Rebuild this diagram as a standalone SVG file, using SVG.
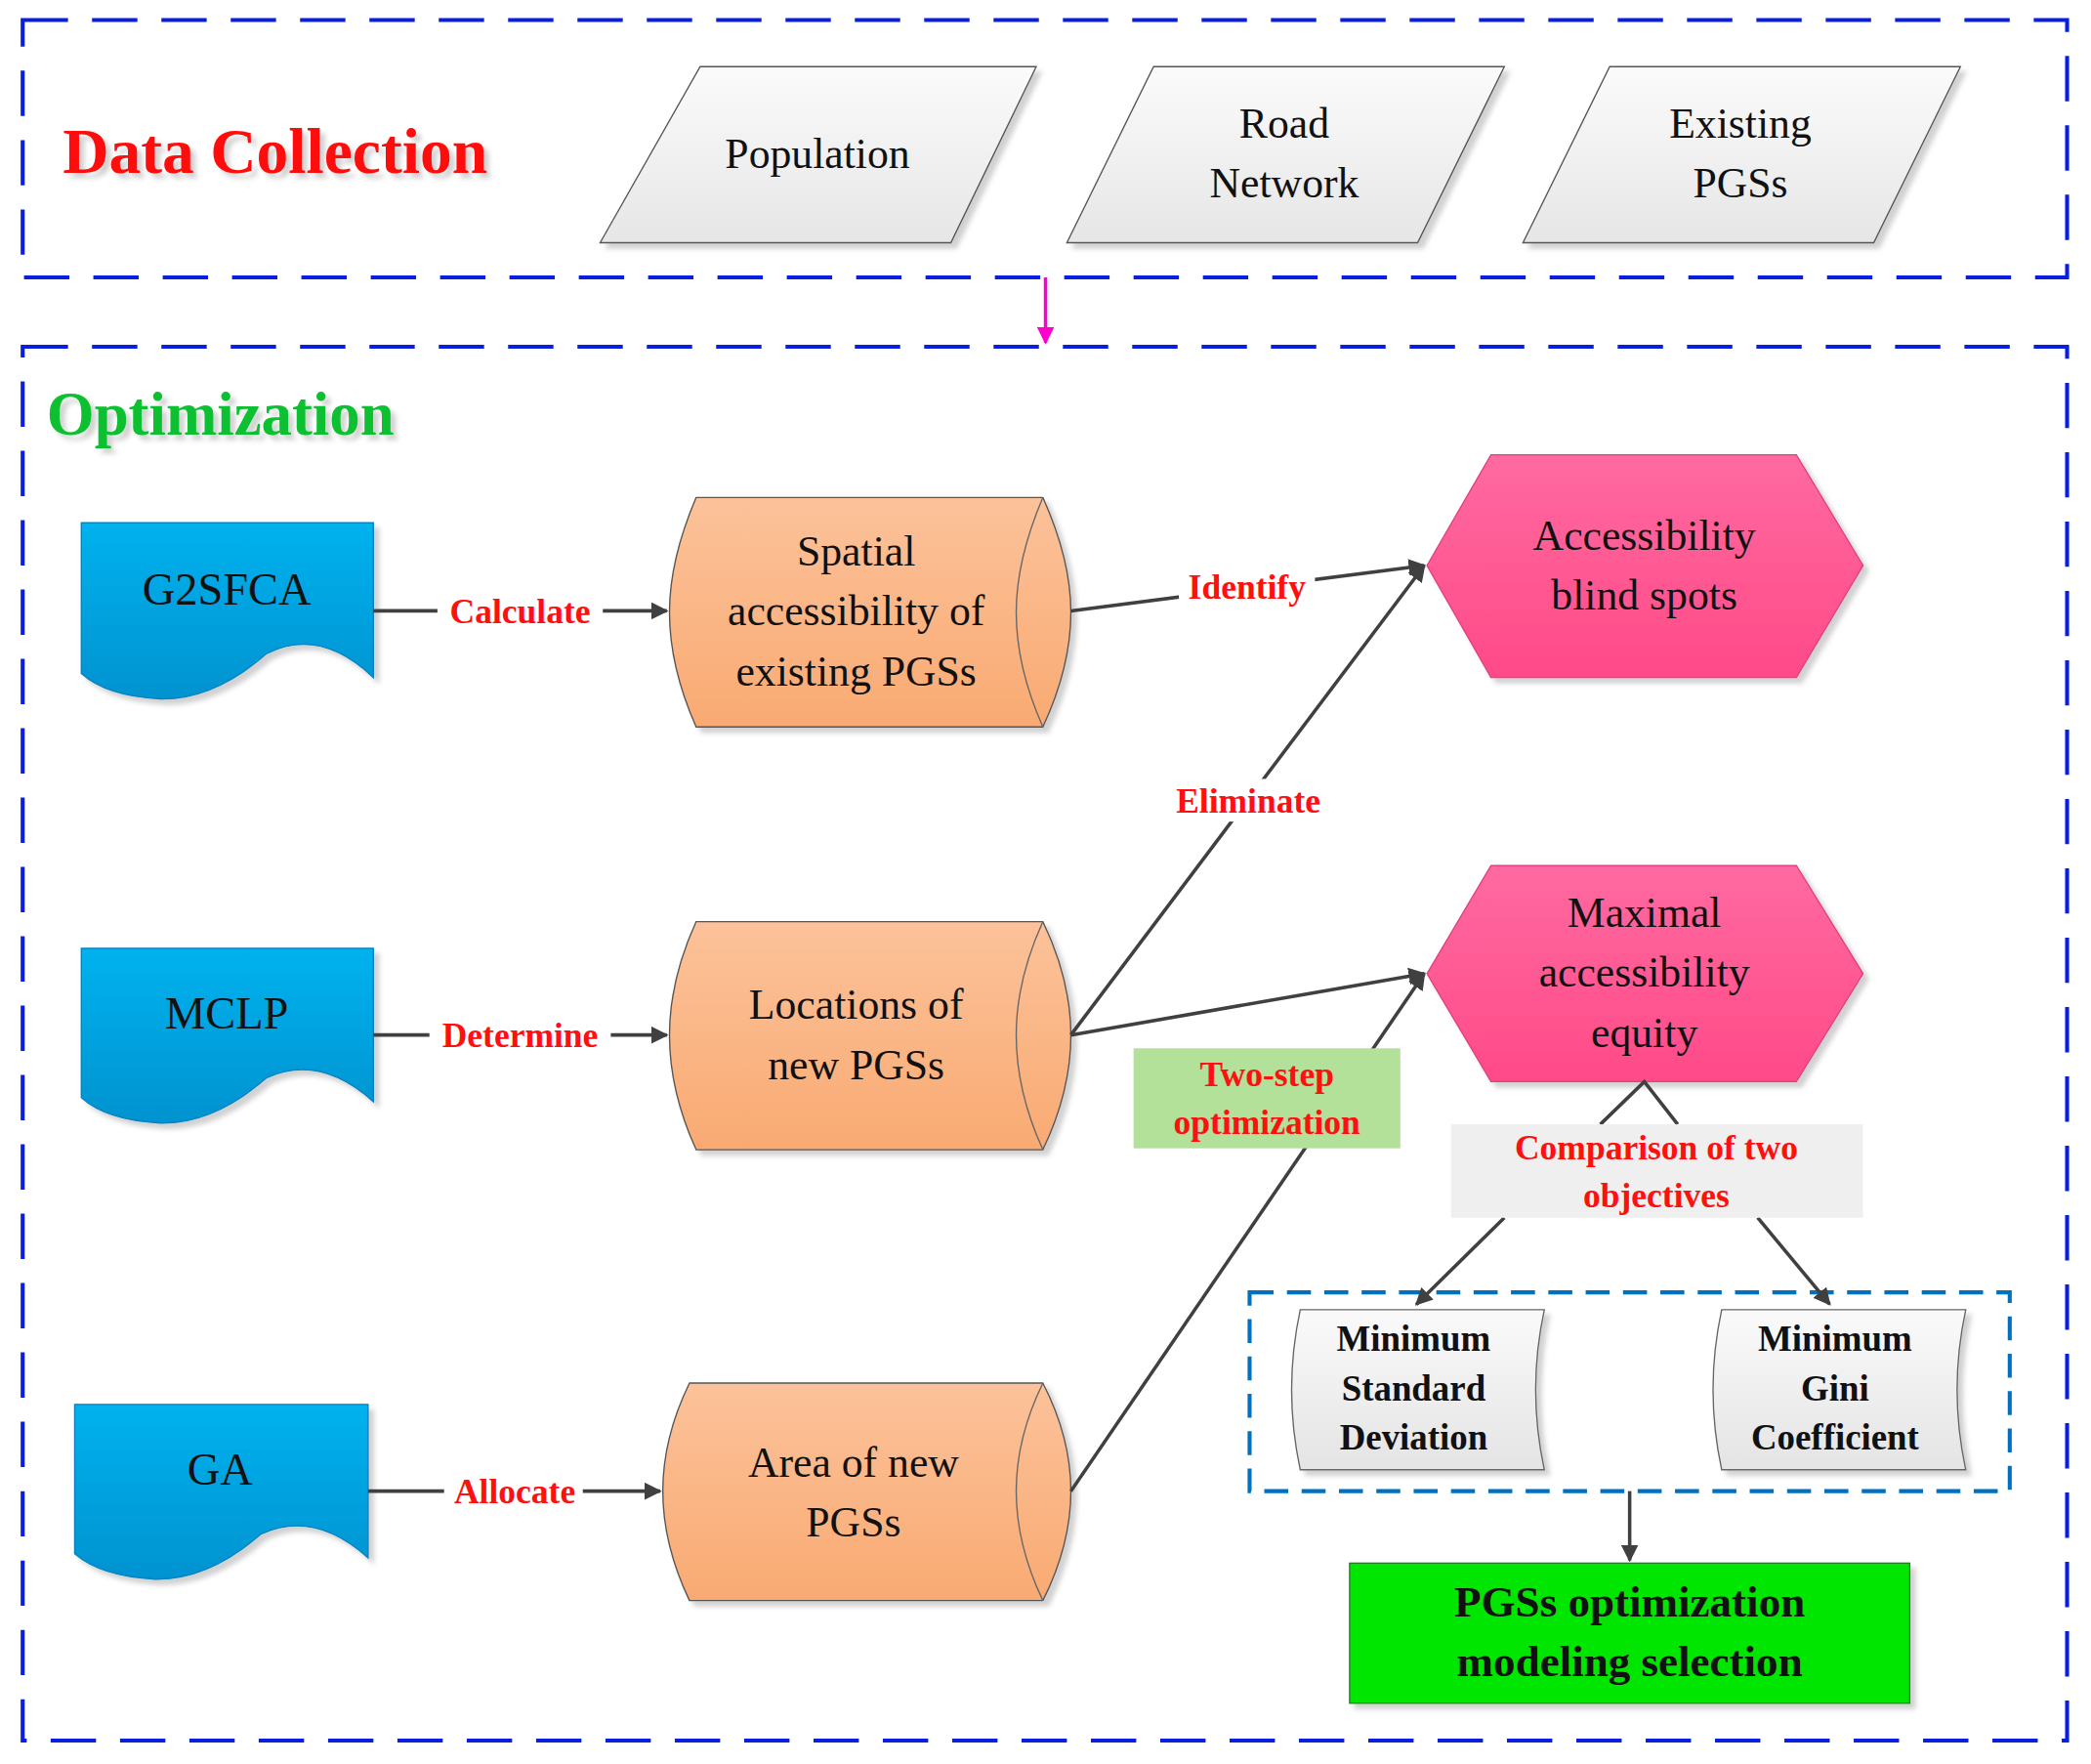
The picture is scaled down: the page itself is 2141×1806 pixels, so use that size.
<svg xmlns="http://www.w3.org/2000/svg" width="2141" height="1806" viewBox="0 0 2141 1806">
<defs>
<linearGradient id="gPar" x1="0" y1="0" x2="0" y2="1"><stop offset="0" stop-color="#fbfbfb"/><stop offset="1" stop-color="#e6e6e6"/></linearGradient>
<linearGradient id="gCyl" x1="0" y1="0" x2="0" y2="1"><stop offset="0" stop-color="#fcc29a"/><stop offset="1" stop-color="#f9aa72"/></linearGradient>
<linearGradient id="gHex" x1="0" y1="0" x2="0" y2="1"><stop offset="0" stop-color="#ff6aa0"/><stop offset="1" stop-color="#ff4a88"/></linearGradient>
<linearGradient id="gDoc" x1="0" y1="0" x2="0" y2="1"><stop offset="0" stop-color="#00b2ee"/><stop offset="1" stop-color="#0093d0"/></linearGradient>
<linearGradient id="gGrey" x1="0" y1="0" x2="0" y2="1"><stop offset="0" stop-color="#fafafa"/><stop offset="1" stop-color="#e4e4e4"/></linearGradient>
<marker id="ah" viewBox="0 0 10 10" refX="9" refY="5" markerWidth="5" markerHeight="5" orient="auto"><path d="M0,0 L10,5 L0,10 z" fill="#404040"/></marker>
<marker id="am" viewBox="0 0 10 10" refX="9" refY="5" markerWidth="5" markerHeight="5" orient="auto"><path d="M0,0 L10,5 L0,10 z" fill="#ff00cc"/></marker>
<filter id="sh" x="-10%" y="-10%" width="130%" height="130%"><feDropShadow dx="4" dy="4" stdDeviation="2" flood-color="#000" flood-opacity="0.18"/></filter>
</defs>
<style>
.t{font-family:"Liberation Serif",serif;text-anchor:middle;fill:#111}
.lbl{font-family:"Liberation Serif",serif;font-weight:bold;fill:#ff1010;text-anchor:middle;font-size:26px}
.b{font-weight:bold}
.dash{fill:none;stroke:#0a1ee0;stroke-width:3;stroke-dasharray:34 18}
.ln{stroke:#404040;stroke-width:2.6;fill:none}
</style>
<rect width="2141" height="1806" fill="#fff"/>
<g transform="scale(1.3655)">
<g id="frames">
<rect class="dash" x="17" y="15" width="1533" height="193"/>
<rect class="dash" x="17" y="260" width="1533" height="1045"/>
<rect x="937" y="969" width="570" height="149" fill="none" stroke="#0070c0" stroke-width="3" stroke-dasharray="18 10"/>
</g>
<g id="titles">
<text x="47" y="130" font-family="Liberation Serif,serif" font-weight="bold" font-size="48" fill="#ff1010" filter="url(#sh)">Data Collection</text>
<text x="35" y="326" font-family="Liberation Serif,serif" font-weight="bold" font-size="46" fill="#10c030" filter="url(#sh)">Optimization</text>
</g>
<g id="population"><polygon points="450,182 525,50 777,50 713,182" fill="url(#gPar)" stroke="#555" stroke-width="1" filter="url(#sh)"/><text class="t" x="613" y="126" font-size="32">Population</text></g>
<g id="road"><polygon points="800,182 865,50 1128,50 1063,182" fill="url(#gPar)" stroke="#555" stroke-width="1" filter="url(#sh)"/><text class="t" x="963" y="103" font-size="32">Road</text><text class="t" x="963" y="148" font-size="32">Network</text></g>
<g id="existing"><polygon points="1142,182 1207,50 1470,50 1405,182" fill="url(#gPar)" stroke="#555" stroke-width="1" filter="url(#sh)"/><text class="t" x="1305" y="103" font-size="32">Existing</text><text class="t" x="1305" y="148" font-size="32">PGSs</text></g>

<g id="g2sfca"><path d="M61,392 H280 V508 Q240,470 200,490 Q160,525 120,524 Q80,522 61,505 Z" fill="url(#gDoc)" stroke="#0a80c0" stroke-width="1" filter="url(#sh)"/><text class="t" x="170" y="453" font-size="34">G2SFCA</text></g>
<g id="mclp"><path d="M61,711 H280 V826 Q240,790 200,808 Q160,843 120,842 Q80,840 61,823 Z" fill="url(#gDoc)" stroke="#0a80c0" stroke-width="1" filter="url(#sh)"/><text class="t" x="170" y="771" font-size="34">MCLP</text></g>
<g id="ga"><path d="M56,1053 H276 V1168 Q236,1132 196,1150 Q156,1185 116,1184 Q76,1182 56,1165 Z" fill="url(#gDoc)" stroke="#0a80c0" stroke-width="1" filter="url(#sh)"/><text class="t" x="165" y="1113" font-size="34">GA</text></g>

<g id="spatial"><path d="M522,373 H782 Q803,420 803,459 Q803,500 782,545 H522 Q502,500 502,459 Q502,420 522,373 Z" fill="url(#gCyl)" stroke="#555" stroke-width="1" filter="url(#sh)"/><path d="M782,373 Q762,420 762,459 Q762,500 782,545" fill="none" stroke="#666" stroke-width="1"/><text class="t" x="642" y="424" font-size="32">Spatial</text><text class="t" x="642" y="469" font-size="32">accessibility of</text><text class="t" x="642" y="514" font-size="32">existing PGSs</text></g>
<g id="locations"><path d="M522,691 H782 Q803,735 803,776 Q803,818 782,862 H522 Q502,818 502,776 Q502,735 522,691 Z" fill="url(#gCyl)" stroke="#555" stroke-width="1" filter="url(#sh)"/><path d="M782,691 Q762,735 762,776 Q762,818 782,862" fill="none" stroke="#666" stroke-width="1"/><text class="t" x="642" y="764" font-size="32">Locations of</text><text class="t" x="642" y="809" font-size="32">new PGSs</text></g>
<g id="area"><path d="M517,1037 H782 Q803,1078 803,1118 Q803,1158 782,1200 H517 Q497,1158 497,1118 Q497,1078 517,1037 Z" fill="url(#gCyl)" stroke="#555" stroke-width="1" filter="url(#sh)"/><path d="M782,1037 Q762,1078 762,1118 Q762,1158 782,1200" fill="none" stroke="#666" stroke-width="1"/><text class="t" x="640" y="1107" font-size="32">Area of new</text><text class="t" x="640" y="1152" font-size="32">PGSs</text></g>

<g id="blind"><polygon points="1070,424 1118,341 1347,341 1397,424 1347,508 1118,508" fill="url(#gHex)" stroke="#e04080" stroke-width="1" filter="url(#sh)"/><text class="t" x="1233" y="412" font-size="32">Accessibility</text><text class="t" x="1233" y="457" font-size="32">blind spots</text></g>
<g id="maximal"><polygon points="1070,730 1118,649 1347,649 1397,730 1347,811 1118,811" fill="url(#gHex)" stroke="#e04080" stroke-width="1" filter="url(#sh)"/><text class="t" x="1233" y="695" font-size="32">Maximal</text><text class="t" x="1233" y="740" font-size="32">accessibility</text><text class="t" x="1233" y="785" font-size="32">equity</text></g>

<g id="minsd"><path d="M975,982 H1158 Q1145,1042 1158,1102 H975 Q962,1042 975,982 Z" fill="url(#gGrey)" stroke="#666" stroke-width="1" filter="url(#sh)"/><text class="t b" x="1060" y="1013" font-size="27">Minimum</text><text class="t b" x="1060" y="1050" font-size="27">Standard</text><text class="t b" x="1060" y="1087" font-size="27">Deviation</text></g>
<g id="mingini"><path d="M1291,982 H1474 Q1461,1042 1474,1102 H1291 Q1278,1042 1291,982 Z" fill="url(#gGrey)" stroke="#666" stroke-width="1" filter="url(#sh)"/><text class="t b" x="1376" y="1013" font-size="27">Minimum</text><text class="t b" x="1376" y="1050" font-size="27">Gini</text><text class="t b" x="1376" y="1087" font-size="27">Coefficient</text></g>

<g id="final"><rect x="1012" y="1172" width="420" height="105" fill="#00e600" stroke="#208020" stroke-width="1" filter="url(#sh)"/><text class="t b" x="1222" y="1212" font-size="33">PGSs optimization</text><text class="t b" x="1222" y="1257" font-size="33">modeling selection</text></g>

<g id="connectors">
<line x1="784" y1="208" x2="784" y2="257" stroke="#ff00cc" stroke-width="2.6" marker-end="url(#am)"/>
<line class="ln" x1="280" y1="458" x2="500" y2="458" marker-end="url(#ah)"/>
<line class="ln" x1="280" y1="776" x2="500" y2="776" marker-end="url(#ah)"/>
<line class="ln" x1="276" y1="1118" x2="495" y2="1118" marker-end="url(#ah)"/>
<line class="ln" x1="803" y1="458" x2="1068" y2="424" marker-end="url(#ah)"/>
<line class="ln" x1="803" y1="776" x2="1068" y2="424" marker-end="url(#ah)"/>
<line class="ln" x1="803" y1="776" x2="1068" y2="730" marker-end="url(#ah)"/>
<line class="ln" x1="803" y1="1118" x2="1068" y2="730" marker-end="url(#ah)"/>
<polyline class="ln" points="1200,843 1233,811 1258,843"/>
<line class="ln" x1="1128" y1="913" x2="1062" y2="978" marker-end="url(#ah)"/>
<line class="ln" x1="1318" y1="913" x2="1372" y2="978" marker-end="url(#ah)"/>
<line class="ln" x1="1222" y1="1118" x2="1222" y2="1170" marker-end="url(#ah)"/>
<rect x="328" y="442" width="124" height="32" fill="#fff"/><text class="lbl" x="390" y="467">Calculate</text>
<rect x="322" y="760" width="136" height="32" fill="#fff"/><text class="lbl" x="390" y="785">Determine</text>
<rect x="333" y="1102" width="104" height="32" fill="#fff"/><text class="lbl" x="386" y="1127">Allocate</text>
<rect x="884" y="424" width="102" height="32" fill="#fff"/><text class="lbl" x="935" y="449">Identify</text>
<rect x="872" y="584" width="128" height="32" fill="#fff"/><text class="lbl" x="936" y="609">Eliminate</text>
<rect x="850" y="786" width="200" height="75" fill="#b3e19a"/><text class="lbl" x="950" y="814">Two-step</text><text class="lbl" x="950" y="850">optimization</text>
<rect x="1088" y="843" width="309" height="70" fill="#efefef"/><text class="lbl" x="1242" y="869">Comparison of two</text><text class="lbl" x="1242" y="905">objectives</text>
</g>
</g>
</svg>
